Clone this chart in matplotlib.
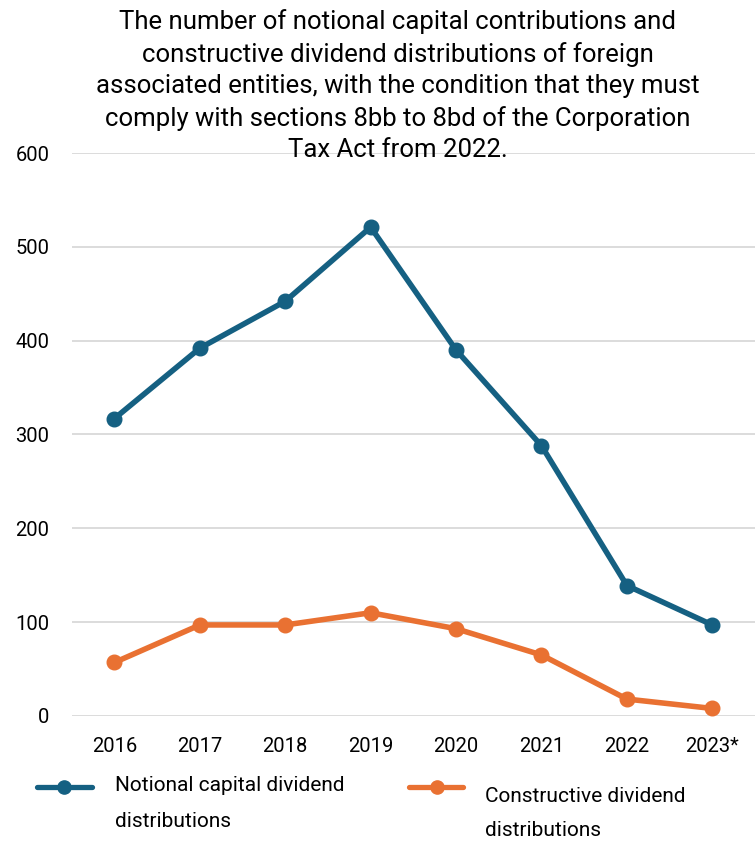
import matplotlib
matplotlib.use("Agg")
import matplotlib.pyplot as plt
from matplotlib.lines import Line2D
import logging
logging.getLogger('matplotlib.font_manager').setLevel(logging.ERROR)

years = ["2016", "2017", "2018", "2019", "2020", "2021", "2022", "2023*"]
notional = [317, 392, 442, 521, 390, 288, 139, 97]
constructive = [57, 97, 97, 110, 93, 65, 18, 8]
yticks = [0, 100, 200, 300, 400, 500, 600]
series_names = [["Notional capital dividend", "distributions"],
                ["Constructive dividend", "distributions"]]

title = ("The number of notional capital contributions and\n"
         "constructive dividend distributions of foreign\n"
         "associated entities, with the condition that they must\n"
         "comply with sections 8bb to 8bd of the Corporation\n"
         "Tax Act from 2022.")

plt.rcParams['font.family'] = ['Roboto', 'DejaVu Sans']

BLUE = "#156082"
ORANGE = "#E97132"

W, H = 755, 843
fig = plt.figure(figsize=(W / 100, H / 100), dpi=100)
ax = fig.add_axes([0.095, 0.1507, 0.905, 0.6678])

x = list(range(len(years)))
ax.plot(x, notional, color=BLUE, lw=4, marker='o', ms=10.5, zorder=3)
ax.plot(x, constructive, color=ORANGE, lw=4, marker='o', ms=10.5, zorder=3)

ax.set_xlim(-0.5, len(years) - 0.5)
ax.set_ylim(0, 600)
ax.set_yticks(yticks)
ax.set_xticks(x)
ax.set_xticklabels(years)
ax.tick_params(axis='both', length=0, labelsize=14.5, colors='black')
ax.tick_params(axis='x', pad=15)
ax.tick_params(axis='y', pad=16)
ax.grid(axis='y', color='#D9D9D9', lw=1.3)
ax.set_axisbelow(True)
for s in ax.spines.values():
    s.set_visible(False)

fig.text(0.5265, 0.989, title, ha='center', va='top', fontsize=18.5, linespacing=1.383)

# legend drawn manually: (line x0, x1, marker x, line y, text x, baselines)
def px(xp, yp):
    return xp / W, 1 - yp / H

legend_specs = [
    (BLUE, 37, 92, 64, 787, 115, (791, 827)),
    (ORANGE, 409, 463, 437, 787, 485, (802, 836)),
]
for (col, x0, x1, xm, yl, xt, bls), lines in zip(legend_specs, series_names):
    a0, b0 = px(x0, yl)
    a1, _ = px(x1, yl)
    am, _ = px(xm, yl)
    fig.add_artist(Line2D([a0, a1], [b0, b0], transform=fig.transFigure,
                          color=col, lw=3.8, solid_capstyle='round'))
    fig.add_artist(Line2D([am], [b0], transform=fig.transFigure, color=col,
                          marker='o', ms=9.5, lw=0))
    for line, bl in zip(lines, bls):
        tx, ty = px(xt, bl)
        fig.text(tx, ty, line, ha='left', va='baseline', fontsize=15)

fig.savefig("out.png", dpi=100)
